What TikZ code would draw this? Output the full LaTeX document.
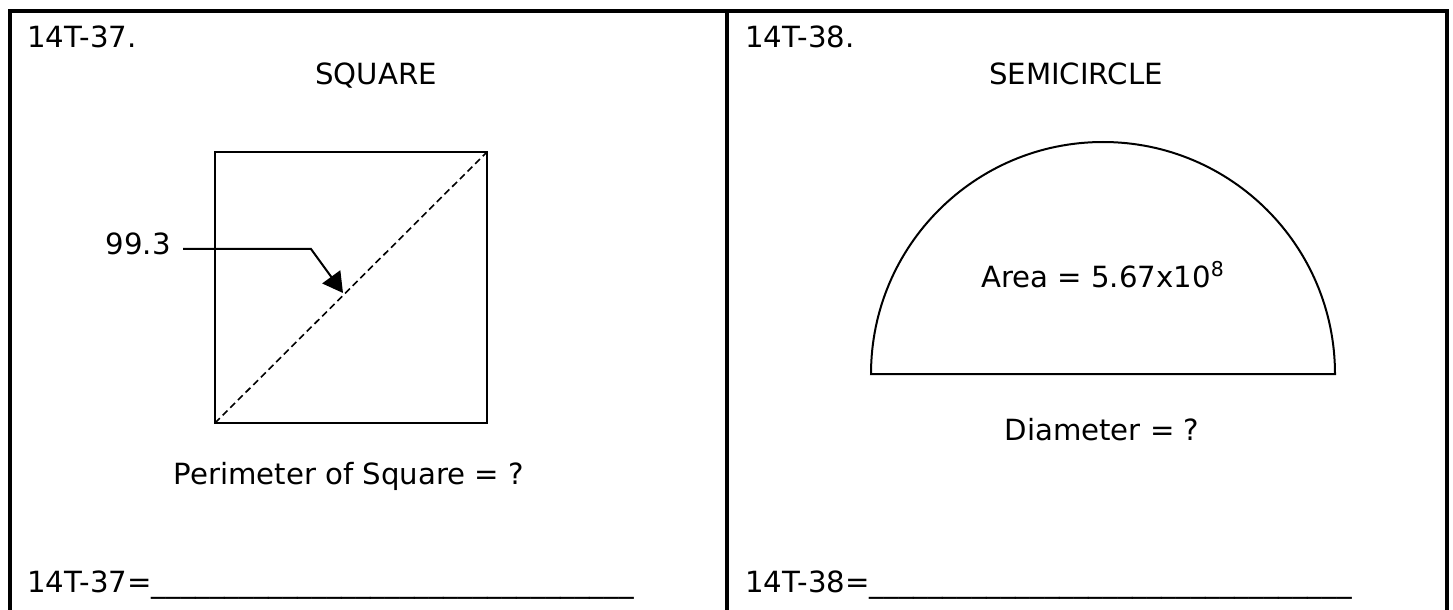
\documentclass[tikz,border=0pt]{standalone}
\usepackage{fontspec}
\setmainfont{DejaVu Sans}
\usetikzlibrary{arrows.meta}
\begin{document}
\begin{tikzpicture}[x=0.5pt,y=-0.5pt,
  frame/.style={line width=2pt},
  shapeline/.style={line width=1pt},
  txt/.style={inner sep=0pt,font=\fontsize{14.6pt}{17pt}\selectfont},
  arrowtip/.style={-{Triangle[length=10pt,width=11pt]}}
]
\useasboundingbox[fill=white] (0,0) rectangle (1453,610);
% frame
\draw[frame] (10,610) -- (10,11.5) -- (1447,11.5) -- (1447,610);
\draw[frame] (727,11.5) -- (727,610);
% left panel
\node[txt,anchor=base west] (n37) at (27,48) {14T-37.};
\node[txt,anchor=base] (sqtitle) at (376,85) {SQUARE};
\draw[shapeline] (215,152) rectangle (487,423);
\coordinate (sqbl) at (215,423);
\coordinate (sqtr) at (487,152);
\draw[line width=0.8pt,dash pattern=on 3.4pt off 2pt] (sqbl) -- (sqtr);
\node[txt,anchor=base east] (len) at (171,255) {99.3};
\coordinate (lead) at (183,249);
\coordinate (bend) at (311,249);
\coordinate (tip) at (343,293);
\draw[shapeline,arrowtip] (lead) -- (bend) -- (tip);
\node[txt,anchor=base] (perim) at (349,484) {Perimeter of Square = ?};
\node[txt,anchor=base west] (a37) at (27,592) {14T-37=\_\_\_\_\_\_\_\_\_\_\_\_\_\_\_\_\_\_\_\_\_\_\_\_\_\_\_\_\_\_\_\_\_};
% right panel
\node[txt,anchor=base west] (n38) at (745,48) {14T-38.};
\node[txt,anchor=base] (sctitle) at (1076,85) {SEMICIRCLE};
\draw[shapeline] (871,374) -- (1335,374) arc[start angle=0,end angle=-180,radius=232] -- cycle;
\node[txt,anchor=base] (area) at (1103,287) {Area = 5.67x10\textsuperscript{8}};
\node[txt,anchor=base] (diam) at (1102,440) {Diameter = ?};
\node[txt,anchor=base west] (a38) at (745,592) {14T-38=\_\_\_\_\_\_\_\_\_\_\_\_\_\_\_\_\_\_\_\_\_\_\_\_\_\_\_\_\_\_\_\_\_};
\end{tikzpicture}
\end{document}
